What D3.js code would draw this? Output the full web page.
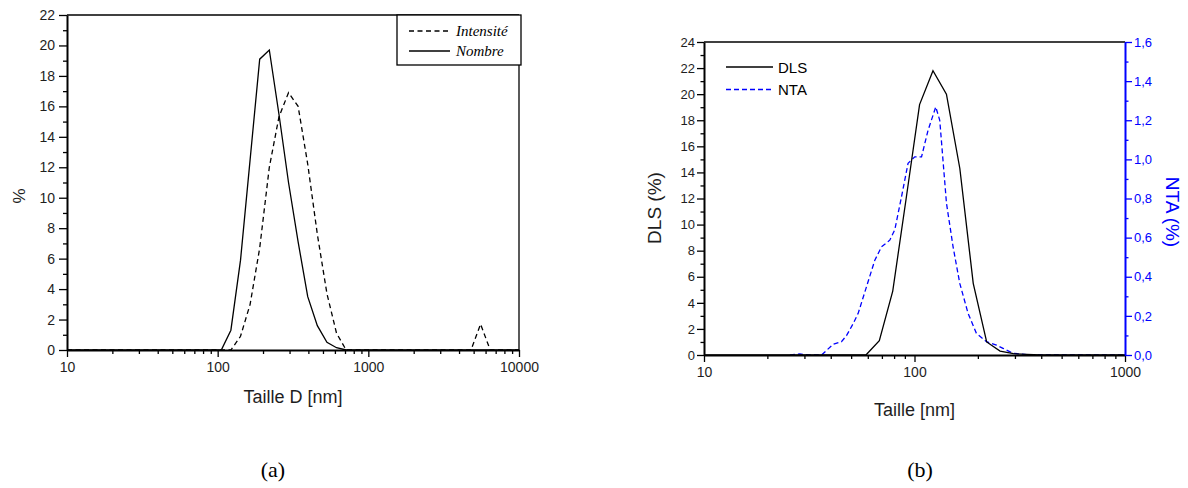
<!DOCTYPE html>
<html><head><meta charset="utf-8">
<script src="https://cdn.jsdelivr.net/npm/d3@7"></script>
<style>
body{margin:0;background:#fff}
svg{display:block}
text{font-family:"Liberation Sans",Arial,sans-serif;fill:#1e1e1e}
</style>
</head><body>
<svg id="c" width="1188" height="488"></svg>
<script>
// ---------- Panel (a) data ----------
const sizesA = [10, 91.28, 105.7, 122.4, 141.8, 164.2, 190.1, 220.2, 255.0, 295.3, 342.0, 396.1, 458.7, 531.2, 615.1, 712.4, 825.0, 4145, 4801, 5560, 6439, 7456, 10000];
const intensite = [0, 0, 0, 0, 0.9, 3.0, 6.7, 12.0, 15.3, 16.9, 16.0, 12.2, 7.6, 3.7, 1.1, 0, 0, 0, 0, 1.7, 0, 0, 0];
const nombre    = [0, 0, 0, 1.3, 5.9, 12.5, 19.1, 19.7, 15.5, 11.0, 7.1, 3.5, 1.6, 0.5, 0.15, 0, 0, 0, 0, 0, 0, 0, 0];
const xTicksA = [10, 100, 1000, 10000];
const yTicksA = [0, 2, 4, 6, 8, 10, 12, 14, 16, 18, 20, 22];
const legendA = ["Intensité", "Nombre"];

// ---------- Panel (b) data ----------
const sizesDLS = [10, 58.77, 68.06, 78.82, 91.28, 105.7, 122.4, 141.8, 164.2, 190.1, 220.2, 255.0, 295.3, 342.0, 396.1, 1000];
const dls      = [0, 0, 1.1, 4.9, 12.0, 19.2, 21.8, 20.0, 14.3, 5.5, 1.0, 0.3, 0.1, 0.05, 0, 0];
const sizesNTA = [25.6, 28.5, 31.9, 36.2, 37.9, 41.1, 45.0, 47.6, 51.1, 54.0, 59.2, 64.8, 69.7, 76.3, 80.6, 86.8, 93.2, 100.3, 108.0, 116.0, 126.2, 131.8, 141.9, 152.5, 164.1, 179.7, 196.8, 219.7, 244.9, 263.4, 293.8, 352, 1000];
const nta      = [0, 0.005, 0, 0, 0.02, 0.055, 0.068, 0.1, 0.16, 0.213, 0.35, 0.485, 0.553, 0.587, 0.64, 0.81, 0.98, 1.013, 1.013, 1.149, 1.268, 1.2, 0.775, 0.553, 0.366, 0.213, 0.111, 0.068, 0.051, 0.034, 0.009, 0, 0];
const xTicksB = [10, 100, 1000];
const yTicksB = [0, 2, 4, 6, 8, 10, 12, 14, 16, 18, 20, 22, 24];
const yTicksNTA = [0, 0.2, 0.4, 0.6, 0.8, 1.0, 1.2, 1.4, 1.6];
const legendB = ["DLS", "NTA"];

const svg = d3.select("#c");
const BLUE = "#0000ff";
const fr = d3.formatLocale({decimal: ",", thousands: ".", grouping: [3], currency: ["", "€"]});

function minorLog(scale) {
  return scale.ticks().filter(v => Math.abs(Math.log10(v) - Math.round(Math.log10(v))) > 1e-6);
}
function styleAxis(g, color, fs, sw) {
  g.select(".domain").attr("stroke", color).attr("stroke-width", sw);
  g.selectAll(".tick line").attr("stroke", color).attr("stroke-width", 1.3);
  g.selectAll("text").style("font-size", fs + "px").style("fill", color === "#000" ? "#1e1e1e" : color).attr("font-family", null);
}

// ================= Panel (a) =================
{
  const L = 67, R = 519, T = 15, B = 350;
  const x = d3.scaleLog().domain([10, 10000]).range([L, R]);
  const y = d3.scaleLinear().domain([0, 22]).range([B, T]);
  const g = svg.append("g");

  const line = (vals) => d3.line().x((d, i) => x(sizesA[i])).y(d => y(d))(vals);
  g.append("path").attr("d", line(intensite)).attr("fill", "none").attr("stroke", "#000")
    .attr("stroke-width", 1.3).attr("stroke-dasharray", "5,3.5");
  g.append("path").attr("d", line(nombre)).attr("fill", "none").attr("stroke", "#000")
    .attr("stroke-width", 1.3);

  // frame
  g.append("line").attr("x1", L).attr("x2", R).attr("y1", T).attr("y2", T).attr("stroke", "#000").attr("stroke-width", 1.3);
  g.append("line").attr("x1", R).attr("x2", R).attr("y1", T).attr("y2", B).attr("stroke", "#000").attr("stroke-width", 1.3);

  const xa = g.append("g").attr("transform", `translate(0,${B})`)
    .call(d3.axisBottom(x).tickValues(xTicksA).tickFormat(d3.format("d")).tickSize(7).tickSizeOuter(0).tickPadding(5));
  styleAxis(xa, "#000", 14, 2);
  const xm = g.append("g").attr("transform", `translate(0,${B})`)
    .call(d3.axisBottom(x).tickValues(minorLog(x)).tickFormat("").tickSize(4).tickSizeOuter(0));
  xm.select(".domain").remove(); xm.selectAll("line").attr("stroke", "#000").attr("stroke-width", 1.3);

  const ya = g.append("g").attr("transform", `translate(${L},0)`)
    .call(d3.axisLeft(y).tickValues(yTicksA).tickSize(8).tickSizeOuter(0).tickPadding(4));
  styleAxis(ya, "#000", 14, 2);
  const ym = g.append("g").attr("transform", `translate(${L},0)`)
    .call(d3.axisLeft(y).tickValues(d3.range(1, 22, 2)).tickFormat("").tickSize(4).tickSizeOuter(0));
  ym.select(".domain").remove(); ym.selectAll("line").attr("stroke", "#000").attr("stroke-width", 1.3);

  g.append("text").attr("transform", "translate(25,196) rotate(-90)").attr("text-anchor", "middle")
    .style("font-size", "17px").text("%");
  g.append("text").attr("x", (L + R) / 2).attr("y", 403).attr("text-anchor", "middle")
    .style("font-size", "18px").text("Taille D [nm]");

  // legend
  const lg = g.append("g");
  lg.append("rect").attr("x", 397).attr("y", 15).attr("width", 124).attr("height", 50)
    .attr("fill", "#fff").attr("stroke", "#000").attr("stroke-width", 1.3);
  const dashes = ["5,3.5", null];
  legendA.forEach((t, i) => {
    const yy = 31 + i * 20;
    lg.append("line").attr("x1", 409).attr("x2", 450).attr("y1", yy).attr("y2", yy)
      .attr("stroke", "#000").attr("stroke-width", 1.3).attr("stroke-dasharray", dashes[i]);
    lg.append("text").attr("x", 456).attr("y", yy + 5).style("font-family", "'Liberation Serif',serif")
      .style("font-style", "italic").style("font-size", "15px").style("fill", "#000").text(t);
  });

  g.append("text").attr("x", 273).attr("y", 477).attr("text-anchor", "middle")
    .style("font-family", "'Liberation Serif',serif").style("font-size", "22px").style("fill", "#000").text("(a)");
}

// ================= Panel (b) =================
{
  const L = 704, R = 1125, T = 42, B = 355;
  const x = d3.scaleLog().domain([10, 1000]).range([L, R]);
  const y = d3.scaleLinear().domain([0, 24]).range([B, T]);
  const y2 = d3.scaleLinear().domain([0, 1.6]).range([B, T]);
  const g = svg.append("g");

  g.append("path").attr("d", d3.line().x((d, i) => x(sizesNTA[i])).y(d => y2(d))(nta))
    .attr("fill", "none").attr("stroke", BLUE).attr("stroke-width", 1.3).attr("stroke-dasharray", "5,3");
  g.append("path").attr("d", d3.line().x((d, i) => x(sizesDLS[i])).y(d => y(d))(dls))
    .attr("fill", "none").attr("stroke", "#000").attr("stroke-width", 1.3);

  g.append("line").attr("x1", L).attr("x2", R).attr("y1", T).attr("y2", T).attr("stroke", "#000").attr("stroke-width", 1.3);

  const xa = g.append("g").attr("transform", `translate(0,${B})`)
    .call(d3.axisBottom(x).tickValues(xTicksB).tickFormat(d3.format("d")).tickSize(7).tickSizeOuter(0).tickPadding(5));
  styleAxis(xa, "#000", 14, 2);
  const xm = g.append("g").attr("transform", `translate(0,${B})`)
    .call(d3.axisBottom(x).tickValues(minorLog(x)).tickFormat("").tickSize(4).tickSizeOuter(0));
  xm.select(".domain").remove(); xm.selectAll("line").attr("stroke", "#000").attr("stroke-width", 1.3);

  const ya = g.append("g").attr("transform", `translate(${L},0)`)
    .call(d3.axisLeft(y).tickValues(yTicksB).tickSize(7).tickSizeOuter(0).tickPadding(2));
  styleAxis(ya, "#000", 13, 2);
  const ym = g.append("g").attr("transform", `translate(${L},0)`)
    .call(d3.axisLeft(y).tickValues(d3.range(1, 24, 2)).tickFormat("").tickSize(3.5).tickSizeOuter(0));
  ym.select(".domain").remove(); ym.selectAll("line").attr("stroke", "#000").attr("stroke-width", 1.3);

  const yr = g.append("g").attr("transform", `translate(${R},0)`)
    .call(d3.axisRight(y2).tickValues(yTicksNTA).tickFormat(fr.format(".1f")).tickSize(7).tickSizeOuter(0).tickPadding(2));
  styleAxis(yr, BLUE, 13, 2);
  const yrm = g.append("g").attr("transform", `translate(${R},0)`)
    .call(d3.axisRight(y2).tickValues(d3.range(0.1, 1.6, 0.2)).tickFormat("").tickSize(3.5).tickSizeOuter(0));
  yrm.select(".domain").remove(); yrm.selectAll("line").attr("stroke", BLUE).attr("stroke-width", 1.3);

  g.append("text").attr("transform", "translate(661,208) rotate(-90)").attr("text-anchor", "middle")
    .style("font-size", "19px").text("DLS (%)");
  g.append("text").attr("transform", "translate(1166,212) rotate(90)").attr("text-anchor", "middle")
    .style("font-size", "19px").style("fill", BLUE).text("NTA (%)");
  g.append("text").attr("x", (L + R) / 2).attr("y", 416).attr("text-anchor", "middle")
    .style("font-size", "18px").text("Taille [nm]");

  const cols = ["#000", BLUE], dsh = [null, "5,3"];
  legendB.forEach((t, i) => {
    const yy = 67 + i * 22.5;
    g.append("line").attr("x1", 726).attr("x2", 773).attr("y1", yy).attr("y2", yy)
      .attr("stroke", cols[i]).attr("stroke-width", 1.3).attr("stroke-dasharray", dsh[i]);
    g.append("text").attr("x", 778).attr("y", yy + 5.5).style("font-size", "15px").style("fill", "#000").text(t);
  });

  g.append("text").attr("x", 920).attr("y", 477).attr("text-anchor", "middle")
    .style("font-family", "'Liberation Serif',serif").style("font-size", "22px").style("fill", "#000").text("(b)");
}
</script>
</body></html>
